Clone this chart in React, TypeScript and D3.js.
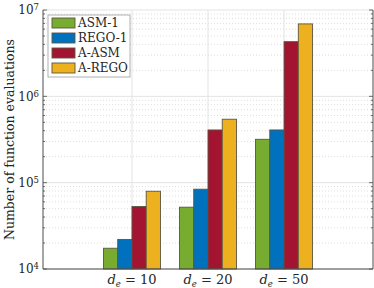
import React, { useEffect, useRef } from "react";
import * as d3 from "d3";

// ── Data ──────────────────────────────────────────────────────────────────────

const CATEGORIES = ["10", "20", "50"];
const SERIES_NAMES = ["ASM-1", "REGO-1", "A-ASM", "A-REGO"];
const SERIES_COLORS = ["#77AC30", "#0072BD", "#A2142F", "#EDB120"];
const ASM1 = [17400, 52000, 318000];
const REGO1 = [22000, 84000, 408000];
const AASM = [53000, 408000, 4300000];
const AREGO = [79500, 543000, 6900000];
const Y_TICKS = [1e4, 1e5, 1e6, 1e7];

const SERIES = [ASM1, REGO1, AASM, AREGO];

// ── Layout ────────────────────────────────────────────────────────────────────

const W = 374;
const H = 288;
const M = { top: 10, right: 1, bottom: 19, left: 43 };
const SERIF = "DejaVu Serif";

function draw(svgEl: SVGSVGElement) {
  const svg = d3.select(svgEl);
  svg.selectAll("*").remove();

  const iw = W - M.left - M.right;
  const ih = H - M.top - M.bottom;
  const g = svg.append("g").attr("transform", `translate(${M.left},${M.top})`);

  const x = d3.scaleLinear().domain([-0.17, 4.17]).range([0, iw]);
  const y = d3.scaleLog().domain([1e4, 1e7]).range([ih, 0]);

  // minor grid (dotted)
  const minor: number[] = [];
  for (let e = 4; e < 7; e++) for (let k = 2; k <= 9; k++) minor.push(k * 10 ** e);
  g.selectAll("line.minor")
    .data(minor)
    .join("line")
    .attr("x1", 0)
    .attr("x2", iw)
    .attr("y1", (d) => y(d))
    .attr("y2", (d) => y(d))
    .attr("stroke", "#d4d4d4")
    .attr("stroke-width", 0.8)
    .attr("stroke-dasharray", "1,2");

  // major grid
  g.selectAll("line.major")
    .data(Y_TICKS)
    .join("line")
    .attr("x1", 0)
    .attr("x2", iw)
    .attr("y1", (d) => y(d))
    .attr("y2", (d) => y(d))
    .attr("stroke", "#e3e3e3")
    .attr("stroke-width", 1);

  g.selectAll("line.vgrid")
    .data(CATEGORIES)
    .join("line")
    .attr("x1", (_, i) => x(i + 1))
    .attr("x2", (_, i) => x(i + 1))
    .attr("y1", 0)
    .attr("y2", ih)
    .attr("stroke", "#e3e3e3")
    .attr("stroke-width", 1);

  // bars
  const step = x(2) - x(1);
  const bw = step * 0.1875;
  SERIES.forEach((vals, s) => {
    g.selectAll(`rect.s${s}`)
      .data(vals)
      .join("rect")
      .attr("x", (_, i) => x(i + 1) + (s - 2) * bw)
      .attr("y", (d) => y(d))
      .attr("width", bw)
      .attr("height", (d) => ih - y(d))
      .attr("fill", SERIES_COLORS[s])
      .attr("stroke", "#5c5540")
      .attr("stroke-width", 0.9);
  });

  // axes frame
  const axisColor = "#4d4d4d";
  g.append("line").attr("x1", 0).attr("x2", 0).attr("y1", 0).attr("y2", ih).attr("stroke", axisColor);
  g.append("line").attr("x1", iw).attr("x2", iw).attr("y1", 0).attr("y2", ih).attr("stroke", axisColor);
  g.append("line").attr("x1", 0).attr("x2", iw).attr("y1", ih).attr("y2", ih).attr("stroke", axisColor);

  // y ticks (major and minor, inside, both sides)
  const allTicks = [...Y_TICKS.map((v) => ({ v, len: 4 })), ...minor.map((v) => ({ v, len: 2 }))];
  [0, iw].forEach((x0) => {
    g.selectAll(null)
      .data(allTicks)
      .join("line")
      .attr("x1", x0)
      .attr("x2", (d) => (x0 === 0 ? d.len : x0 - d.len))
      .attr("y1", (d) => y(d.v))
      .attr("y2", (d) => y(d.v))
      .attr("stroke", axisColor)
      .attr("stroke-width", 0.8);
  });

  // y tick labels
  const yl = g
    .selectAll("text.ytick")
    .data(Y_TICKS)
    .join("text")
    .attr("x", -4)
    .attr("y", (d) => y(d))
    .attr("dy", "0.35em")
    .attr("text-anchor", "end")
    .attr("font-family", SERIF)
    .attr("font-size", 12)
    .attr("fill", "#262626");
  yl.append("tspan").text("10");
  yl.append("tspan")
    .attr("dy", "-0.45em")
    .attr("font-size", 8.5)
    .text((d) => String(Math.round(Math.log10(d))));

  // x tick labels
  const xl = g
    .selectAll("text.xtick")
    .data(CATEGORIES)
    .join("text")
    .attr("x", (_, i) => x(i + 1))
    .attr("y", ih + 15)
    .attr("text-anchor", "middle")
    .attr("font-family", SERIF)
    .attr("font-size", 13)
    .attr("fill", "#262626");
  xl.append("tspan").attr("font-style", "italic").text("d");
  xl.append("tspan").attr("dy", 3).attr("font-size", 8.5).attr("font-style", "italic").text("e");
  xl.append("tspan").attr("dy", -3).text((d) => ` = ${d}`);

  // y label
  svg
    .append("text")
    .attr("transform", `translate(14,${M.top + ih / 2}) rotate(-90)`)
    .attr("text-anchor", "middle")
    .attr("font-family", SERIF)
    .attr("font-size", 12.5)
    .attr("fill", "#262626")
    .text("Number of function evaluations");

  // legend
  const lg = g.append("g").attr("transform", "translate(5,5)");
  lg.append("rect")
    .attr("width", 82)
    .attr("height", 62)
    .attr("fill", "white")
    .attr("stroke", "#a6a6a6")
    .attr("stroke-width", 0.9);
  SERIES_NAMES.forEach((name, i) => {
    lg.append("rect")
      .attr("x", 4)
      .attr("y", 3 + i * 15)
      .attr("width", 23)
      .attr("height", 10)
      .attr("fill", SERIES_COLORS[i])
      .attr("stroke", "#5c5540")
      .attr("stroke-width", 0.9);
    lg.append("text")
      .attr("x", 30)
      .attr("y", 8 + i * 15)
      .attr("dy", "0.35em")
      .attr("font-family", SERIF)
      .attr("font-size", 12)
      .attr("fill", "#262626")
      .text(name);
  });
}

export default function App() {
  const ref = useRef<SVGSVGElement>(null);
  useEffect(() => {
    if (ref.current) draw(ref.current);
  }, []);
  return (
    <svg
      ref={ref}
      width={W}
      height={H}
      style={{ position: "fixed", left: 0, top: 0, background: "white" }}
    />
  );
}
